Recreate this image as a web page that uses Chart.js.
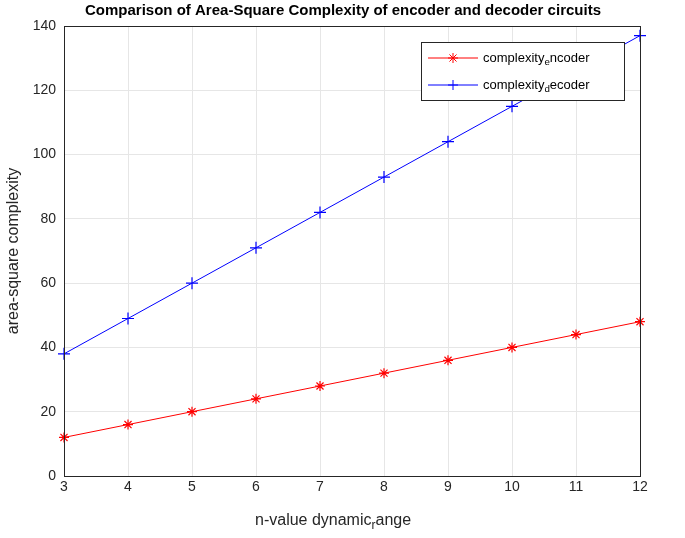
<!DOCTYPE html>
<html><head><meta charset="utf-8">
<script src="https://cdn.jsdelivr.net/npm/chart.js@4"></script>
<style>html,body{margin:0;background:#fff}#wrap{width:685px;height:538px}</style>
</head><body><div id="wrap"><canvas id="c"></canvas></div>
<script>
"use strict";
const nValues = [3, 4, 5, 6, 7, 8, 9, 10, 11, 12];
const encoder = [12, 16, 20, 24, 28, 32, 36, 40, 44, 48];
const decoder = [38, 49, 60, 71, 82, 93, 104, 115, 126, 137];
const FONT = "Liberation Sans, Arial, sans-serif";

// text with a single-letter subscript, MATLAB style
function subText(ctx, x, y, base, sub, rest, size) {
  ctx.font = `${size}px ${FONT}`;
  ctx.fillText(base, x, y); x += ctx.measureText(base).width;
  ctx.font = `${size * 0.75}px ${FONT}`;
  ctx.fillText(sub, x, y + size * 0.3); x += ctx.measureText(sub).width;
  ctx.font = `${size}px ${FONT}`;
  ctx.fillText(rest, x, y);
}

const decor = {
  id: "decor",
  afterDraw(chart) {
    const { ctx, chartArea: a } = chart;
    ctx.save();
    ctx.strokeStyle = "#262626"; ctx.lineWidth = 1;
    ctx.strokeRect(a.left + 0.5, a.top + 0.5, a.right - a.left, a.bottom - a.top);
    ctx.fillStyle = "#000"; ctx.textBaseline = "middle"; ctx.textAlign = "center";
    ctx.font = `bold 15px ${FONT}`;
    ctx.fillText("Comparison of Area-Square Complexity of encoder and decoder circuits", 343, 11);
    ctx.fillStyle = "#262626"; ctx.textAlign = "left";
    subText(ctx, 255, 521, "n-value dynamic", "r", "ange", 16);
    ctx.save(); ctx.translate(14, 251); ctx.rotate(-Math.PI / 2); ctx.textAlign = "center";
    ctx.font = `16px ${FONT}`; ctx.fillText("area-square complexity", 0, 0); ctx.restore();
    // legend
    ctx.fillStyle = "#fff"; ctx.fillRect(421, 42, 203, 58);
    ctx.strokeStyle = "#262626"; ctx.strokeRect(421.5, 42.5, 203, 58);
    const items = [["#ff0000", "e", "ncoder", 58, "star"], ["#0000ff", "d", "ecoder", 85, "cross"]];
    for (const [col, s, r, y, ps] of items) {
      ctx.strokeStyle = col; ctx.beginPath(); ctx.moveTo(428, y); ctx.lineTo(478, y); ctx.stroke();
      Chart.helpers.drawPoint(ctx, { pointStyle: ps, radius: 5, borderWidth: 1 }, 453, y);
      ctx.fillStyle = "#000"; subText(ctx, 483, y, "complexity", s, r, 13);
    }
    ctx.restore();
  }
};

new Chart(document.getElementById("c"), {
  type: "line",
  data: {
    labels: nValues,
    datasets: [
      { data: encoder, borderColor: "#ff0000", backgroundColor: "#ff0000", pointStyle: "star", pointRadius: 5, borderWidth: 1, pointBorderWidth: 1.2, clip: false },
      { data: decoder, borderColor: "#0000ff", backgroundColor: "#0000ff", pointStyle: "cross", pointRadius: 6, borderWidth: 1, pointBorderWidth: 1.2, clip: false },
    ],
  },
  options: {
    animation: false, responsive: true, maintainAspectRatio: false,
    layout: { padding: { top: 26, right: 45, left: 0, bottom: 0 } },
    plugins: { legend: { display: false }, tooltip: { enabled: false } },
    scales: {
      x: {
        type: "linear", min: 3, max: 12,
        ticks: { stepSize: 1, color: "#262626", font: { size: 14, family: FONT } },
        grid: { color: "#e6e6e6", drawTicks: false }, border: { display: false },
        afterFit(s) { s.height = 62; },
      },
      y: {
        min: 0, max: 140,
        ticks: { stepSize: 20, color: "#262626", font: { size: 14, family: FONT }, padding: 8 },
        grid: { color: "#e6e6e6", drawTicks: false }, border: { display: false },
        afterFit(s) { s.width = 64; },
      },
    },
  },
  plugins: [decor],
});
</script></body></html>
